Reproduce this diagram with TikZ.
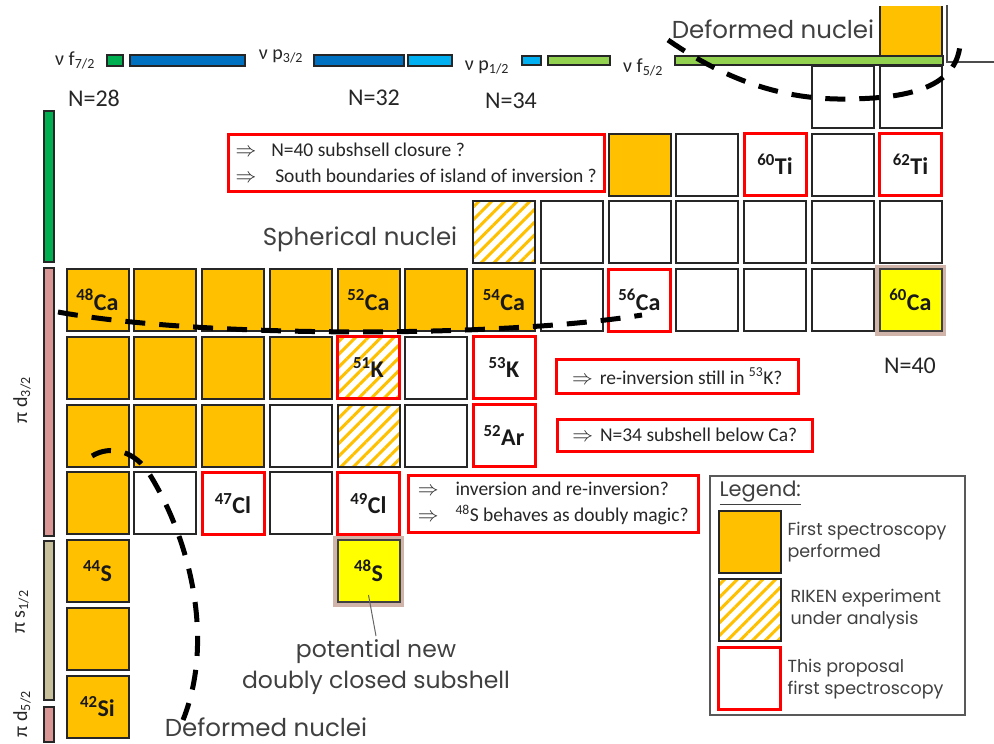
\documentclass[tikz,border=0pt]{standalone}
\usepackage{fontspec}
\setmainfont{Carlito}
\newfontfamily\gothic{Poppins}
\usetikzlibrary{patterns.meta}
\definecolor{org}{HTML}{FFC000}
\definecolor{yel}{HTML}{FFFF00}
\definecolor{gbar}{HTML}{00B050}
\definecolor{bbar}{HTML}{0070C0}
\definecolor{lbbar}{HTML}{00B0F0}
\definecolor{lgbar}{HTML}{92D050}
\definecolor{pbar}{HTML}{D99694}
\definecolor{tbar}{HTML}{C8C09A}
\definecolor{glow}{HTML}{B08070}
\definecolor{txt}{HTML}{404040}
\newcommand\nucl[5]{\node[#4] (#1) at ({97.5+67.75*(#2-1)},{300+67.75*(#3)}) {#5};}
\tikzset{
  cellbase/.style={minimum size=62pt, inner sep=0pt, line width=2pt, draw=black!85,
    font=\bfseries\fontsize{24}{24}\selectfont, text=black!90, text height=20pt, text depth=0pt},
  done/.style={cellbase, fill=org},
  empty/.style={cellbase, fill=white},
  prop/.style={cellbase, fill=white, draw=red, line width=3pt},
  riken/.style={cellbase, pattern={Lines[angle=45,distance=9pt,line width=3pt]}, pattern color=org},
  magic/.style={cellbase, fill=yel, draw=black!75,
    preaction={draw=glow, line width=9pt, opacity=0.6}},
  bar/.style={draw=black!85, line width=1.8pt},
  callout/.style={draw=red, line width=2.5pt, fill=white, align=left, anchor=north west,
    font=\fontsize{19.5}{26}\selectfont, text=black!85, inner xsep=7pt, inner ysep=0pt},
  deform/.style={line width=5pt, dash pattern=on 20pt off 14pt, black},
  gtext/.style={font=\gothic\fontsize{24.5}{31}\selectfont, text=txt, align=center},
  ltext/.style={font=\gothic\fontsize{17.5}{22}\selectfont, text=txt, align=left, anchor=west},
  nlab/.style={font=\fontsize{24}{24}\selectfont, text=black!85},
  orb/.style={font=\fontsize{20}{20}\selectfont, text=black!85},
}
\begin{document}
\begin{tikzpicture}[x=1pt,y=-1pt]
\useasboundingbox (0,0) rectangle (994,744);
% ---- Cr row (clipped at top)
\begin{scope}
\clip (0,6) rectangle (994,744);
\nucl{cr}{13}{-4}{done}{}
\end{scope}
% ---- V row
\nucl{v1}{12}{-3}{empty}{}
\nucl{v2}{13}{-3}{empty}{}
% ---- Ti row
\nucl{ti1}{9}{-2}{done}{}
\nucl{ti2}{10}{-2}{empty}{}
\nucl{ti60}{11}{-2}{prop}{\textsuperscript{60}Ti}
\nucl{ti4}{12}{-2}{empty}{}
\nucl{ti62}{13}{-2}{prop}{\textsuperscript{62}Ti}
% ---- Sc row
\nucl{sc1}{7}{-1}{riken}{}
\nucl{sc2}{8}{-1}{empty}{}
\nucl{sc3}{9}{-1}{empty}{}
\nucl{sc4}{10}{-1}{empty}{}
\nucl{sc5}{11}{-1}{empty}{}
\nucl{sc6}{12}{-1}{empty}{}
\nucl{sc7}{13}{-1}{empty}{}
% ---- Ca row
\nucl{ca48}{1}{0}{done}{\textsuperscript{48}Ca}
\nucl{ca49}{2}{0}{done}{}
\nucl{ca50}{3}{0}{done}{}
\nucl{ca51}{4}{0}{done}{}
\nucl{ca52}{5}{0}{done}{\textsuperscript{52}Ca}
\nucl{ca53}{6}{0}{done}{}
\nucl{ca54}{7}{0}{done}{\textsuperscript{54}Ca}
\nucl{ca55}{8}{0}{empty}{}
\nucl{ca56}{9}{0}{prop}{\textsuperscript{56}Ca}
\nucl{ca57}{10}{0}{empty}{}
\nucl{ca58}{11}{0}{empty}{}
\nucl{ca59}{12}{0}{empty}{}
\nucl{ca60}{13}{0}{magic}{\textsuperscript{60}Ca}
% ---- K row
\nucl{k1}{1}{1}{done}{}
\nucl{k2}{2}{1}{done}{}
\nucl{k3}{3}{1}{done}{}
\nucl{k4}{4}{1}{done}{}
\nucl{k51}{5}{1}{riken, draw=red, line width=3pt}{\textsuperscript{51}K}
\nucl{k52}{6}{1}{empty}{}
\nucl{k53}{7}{1}{prop}{\textsuperscript{53}K}
% ---- Ar row
\nucl{ar1}{1}{2}{done}{}
\nucl{ar2}{2}{2}{done}{}
\nucl{ar3}{3}{2}{done}{}
\nucl{ar4}{4}{2}{empty}{}
\nucl{ar5}{5}{2}{riken}{}
\nucl{ar6}{6}{2}{empty}{}
\nucl{ar52}{7}{2}{prop}{\textsuperscript{52}Ar}
% ---- Cl row
\nucl{cl1}{1}{3}{done}{}
\nucl{cl2}{2}{3}{empty}{}
\nucl{cl47}{3}{3}{prop}{\textsuperscript{47}Cl}
\nucl{cl4}{4}{3}{empty}{}
\nucl{cl49}{5}{3}{prop}{\textsuperscript{49}Cl}
% ---- S, P, Si
\nucl{s44}{1}{4}{done}{\textsuperscript{44}S}
\nucl{s48}{5}{4}{magic}{\textsuperscript{48}S}
\nucl{p1}{1}{5}{done}{}
\nucl{si42}{1}{6}{done}{\textsuperscript{42}Si}
% ---- top frame line
\draw[black!70, line width=1.5pt] (947,5) -- (947,62) -- (994,62);
% ---- neutron orbital bars
\draw[bar, fill=gbar] (107,55) rectangle (123,66);
\draw[bar, fill=bbar] (130,55) rectangle (245,66);
\draw[bar, fill=bbar] (314,55) rectangle (404,66);
\draw[bar, fill=lbbar] (408,55) rectangle (452,66);
\draw[bar, fill=lbbar] (522,56) rectangle (541,65);
\draw[bar, fill=lgbar] (548,56) rectangle (610,65);
\draw[bar, fill=lgbar] (675,56) rectangle (943,65);
\node[orb] (nf7) at (75,60) {ν f\textsubscript{7/2}};
\node[orb] (np3) at (281,56) {ν p\textsubscript{3/2}};
\node[orb] (np1) at (487,67) {ν p\textsubscript{1/2}};
\node[orb] (nf5) at (643,67) {ν f\textsubscript{5/2}};
\node[nlab] (n28) at (94,98) {N=28};
\node[nlab] (n32) at (374,98) {N=32};
\node[nlab] (n34) at (511,101) {N=34};
\node[nlab] (n40) at (910,366) {N=40};
% ---- proton orbital bars
\draw[bar, fill=gbar] (44,111) rectangle (54,262);
\draw[bar, fill=pbar] (44,268) rectangle (54,536);
\draw[bar, fill=tbar] (44,541) rectangle (54,700);
\draw[bar, fill=pbar] (44,707) rectangle (54,742);
\node[orb, rotate=90] (pd3) at (22,400) {π d\textsubscript{3/2}};
\node[orb, rotate=90] (ps1) at (22,612) {π s\textsubscript{1/2}};
\node[orb, rotate=90] (pd5) at (22,714) {π d\textsubscript{5/2}};
% ---- dashed boundaries
\draw[deform] (668,40) .. controls (740,90) and (800,100) .. (850,99) .. controls (912,98) and (956,86) .. (960,45);
\draw[deform] (58,312) .. controls (200,338) and (500,338) .. (642,315);
\draw[deform] (92,456) .. controls (110,445) and (135,450) .. (150,475) .. controls (190,540) and (215,640) .. (183,720);
% ---- region labels
\node[gtext] (deftop) at (773,29) {Deformed nuclei};
\node[gtext] (sph) at (360,239) {Spherical nuclei};
\node[gtext] (defbot) at (266,727) {Deformed nuclei};
\node[gtext, font=\gothic\fontsize{23.5}{31}\selectfont] (pot) at (376,667) {potential new\\doubly closed subshell};
\draw[black!60, line width=1pt] ([yshift=-24pt]s48.center) -- (pot.north);
% ---- callouts
\node[callout, minimum width=376pt, minimum height=57pt] (q1) at (227,133)
  {$\Rightarrow$\hspace{15pt}N=40 subshsell closure ?\\$\Rightarrow$\hspace{19pt}South boundaries of island of inversion ?};
\node[callout, minimum width=242pt, minimum height=34pt] (q2) at (555,358)
  {$\Rightarrow$\hspace{7pt}re-inversion still in \textsuperscript{53}K?};
\node[callout, minimum width=255pt, minimum height=32pt] (q3) at (556,418)
  {$\Rightarrow$\hspace{7pt}N=34 subshell below Ca?};
\node[callout, minimum width=290pt, minimum height=57pt] (q4) at (407,474)
  {$\Rightarrow$\hspace{17pt}inversion and re-inversion?\\$\Rightarrow$\hspace{17pt}\textsuperscript{48}S behaves as doubly magic?};
% ---- legend
\draw[black!65, line width=1.5pt] (710,476) rectangle (965,715);
\node[font=\gothic\fontsize{21}{21}\selectfont, text=txt, anchor=west] (legt) at (716,493) {\underline{Legend:}};
\node[done] (leg1) at (749.5,541.5) {};
\node[riken] (leg2) at (749.5,609.5) {};
\node[prop] (leg3) at (749.5,678) {};
\node[ltext] (lt1) at (784,542) {First spectroscopy\\performed};
\node[ltext] (lt2) at (787,609) {RIKEN experiment\\under analysis};
\node[ltext] (lt3) at (784,679) {This proposal\\first spectroscopy};
\end{tikzpicture}
\end{document}
